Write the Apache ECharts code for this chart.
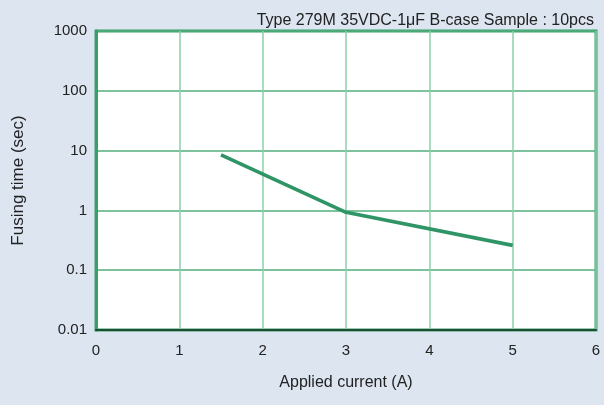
<!DOCTYPE html>
<html>
<head>
<meta charset="utf-8">
<style>
html,body{margin:0;padding:0;background:#dce5f0;}
#c{width:604px;height:405px;}
</style>
<script src="https://cdn.jsdelivr.net/npm/echarts@6/dist/echarts.min.js"></script>
</head>
<body>
<div id="c"></div>
<script>
var currents = [1.5, 3, 5];
var fusingTimes = [8.5, 0.93, 0.26];
var xTicks = [0, 1, 2, 3, 4, 5, 6];
var yTicks = [0.01, 0.1, 1, 10, 100, 1000];
var titleText = 'Type 279M 35VDC-1\u03bcF B-case Sample : 10pcs';

var chart = echarts.init(document.getElementById('c'), null, {renderer: 'canvas'});
var green = '#3a9e6a';
var ff = 'Liberation Sans, Arial, sans-serif';
chart.setOption({
  backgroundColor: '#dce5f0',
  animation: false,
  title: {
    text: titleText,
    right: 5, top: 8,
    textStyle: {fontFamily: ff, fontSize: 16, fontWeight: 'normal', color: '#222'}
  },
  grid: {
    left: 96, right: 8, top: 31, bottom: 75,
    show: true, backgroundColor: '#ffffff', borderColor: green, borderWidth: 3
  },
  xAxis: {
    type: 'value', min: xTicks[0], max: xTicks[xTicks.length - 1], interval: 1,
    name: 'Applied current (A)', nameLocation: 'middle', nameGap: 45,
    nameTextStyle: {fontFamily: ff, fontSize: 16, color: '#222'},
    axisLine: {show: true, lineStyle: {color: '#1d4d33', width: 2}},
    axisTick: {show: false},
    axisLabel: {margin: 13, fontFamily: ff, fontSize: 15, color: '#222'},
    splitLine: {show: true, lineStyle: {color: '#8ccfaa', width: 1.5}}
  },
  yAxis: {
    type: 'log', logBase: 10, min: yTicks[0], max: yTicks[yTicks.length - 1],
    name: 'Fusing time (sec)', nameLocation: 'middle', nameGap: 69,
    nameTextStyle: {fontFamily: ff, fontSize: 17, color: '#222'},
    axisLine: {show: true, lineStyle: {color: green, width: 3}},
    axisTick: {show: false},
    axisLabel: {
      margin: 9, fontFamily: ff, fontSize: 15, color: '#222',
      formatter: function (v) {
        var best = yTicks[0];
        yTicks.forEach(function (t) { if (Math.abs(Math.log10(t) - Math.log10(v)) < Math.abs(Math.log10(best) - Math.log10(v))) best = t; });
        return String(best);
      }
    },
    splitLine: {show: true, lineStyle: {color: '#4fae7c', width: 1.5}}
  },
  series: [{
    type: 'line',
    data: currents.map(function (x, i) { return [x, fusingTimes[i]]; }),
    symbol: 'none',
    lineStyle: {color: '#2f9566', width: 3.6},
    z: 5
  }]
});
</script>
</body>
</html>
